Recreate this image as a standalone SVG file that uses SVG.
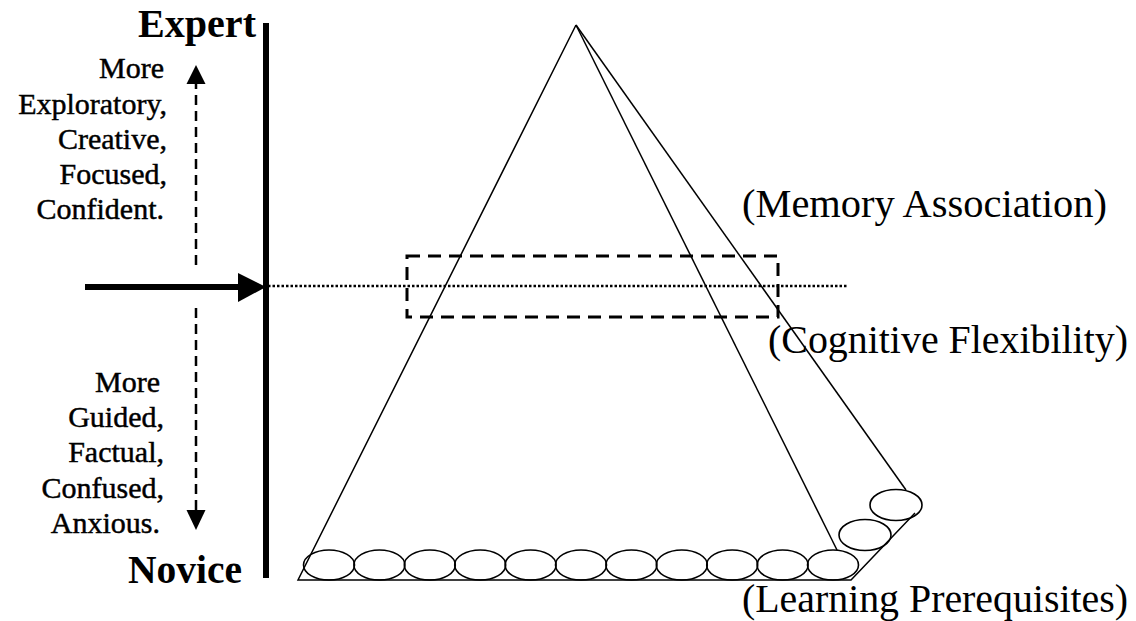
<svg xmlns="http://www.w3.org/2000/svg" width="1136" height="621" viewBox="0 0 1136 621">
<defs>
<style>
text{font-family:'Liberation Serif','Times New Roman','DejaVu Serif',serif;fill:#000}
.bold{font-weight:bold;font-size:39px}
.side{font-size:30px;text-anchor:end;stroke:#000;stroke-width:0.45}
.lbl{font-size:40px}
.edge{stroke:#000;stroke-width:1.5;fill:none}
.ell{stroke:#000;stroke-width:1.6;fill:none}
.dash{stroke:#000;stroke-width:2.5;stroke-dasharray:10 6;fill:none}
</style>
</defs>
<rect width="1136" height="621" fill="#fff"/>

<g id="pyramid">
<path class="edge" d="M576,25 L298,580 L851,580 L915,513"/>
<path class="edge" d="M576,25 L837,550"/>
<path class="edge" d="M576,25 L906,490"/>
<g id="prereq-circles">
<ellipse class="ell" cx="329" cy="565" rx="25.5" ry="15"/>
<ellipse class="ell" cx="379.4" cy="565" rx="25.5" ry="15"/>
<ellipse class="ell" cx="429.8" cy="565" rx="25.5" ry="15"/>
<ellipse class="ell" cx="480.2" cy="565" rx="25.5" ry="15"/>
<ellipse class="ell" cx="530.6" cy="565" rx="25.5" ry="15"/>
<ellipse class="ell" cx="581" cy="565" rx="25.5" ry="15"/>
<ellipse class="ell" cx="631.4" cy="565" rx="25.5" ry="15"/>
<ellipse class="ell" cx="681.8" cy="565" rx="25.5" ry="15"/>
<ellipse class="ell" cx="732.2" cy="565" rx="25.5" ry="15"/>
<ellipse class="ell" cx="782.6" cy="565" rx="25.5" ry="15"/>
<ellipse class="ell" cx="833" cy="565" rx="25.5" ry="15"/>
<ellipse class="ell" cx="865" cy="535" rx="26" ry="15.5"/>
<ellipse class="ell" cx="896" cy="505" rx="26" ry="15.5"/>
</g>
</g>

<g id="flex-window">
<rect x="407" y="256" width="371" height="61" fill="none" stroke="#000" stroke-width="3" stroke-dasharray="13 8"/>
</g>

<g id="scale-axis">
<line x1="266" y1="23" x2="266" y2="578" stroke="#000" stroke-width="6"/>
<text class="bold" x="138" y="37" textLength="118" lengthAdjust="spacingAndGlyphs">Expert</text>
<text class="bold" x="128" y="583" textLength="114" lengthAdjust="spacingAndGlyphs">Novice</text>
</g>

<g id="expert-traits">
<text class="side" x="164" y="78">More</text>
<text class="side" x="167" y="114">Exploratory,</text>
<text class="side" x="167" y="149">Creative,</text>
<text class="side" x="167" y="184">Focused,</text>
<text class="side" x="164" y="219">Confident.</text>
</g>

<g id="novice-traits">
<text class="side" x="160" y="392">More</text>
<text class="side" x="164" y="427">Guided,</text>
<text class="side" x="164" y="462">Factual,</text>
<text class="side" x="164" y="498">Confused,</text>
<text class="side" x="160" y="533">Anxious.</text>
</g>

<g id="labels">
<text class="lbl" x="742" y="217" textLength="365" lengthAdjust="spacingAndGlyphs">(Memory Association)</text>
<text class="lbl" x="768" y="353" textLength="360" lengthAdjust="spacingAndGlyphs">(Cognitive Flexibility)</text>
<text class="lbl" x="742" y="612" textLength="386" lengthAdjust="spacingAndGlyphs">(Learning Prerequisites)</text>
</g>

<g id="connectors">
<line x1="85" y1="287" x2="240" y2="287" stroke="#000" stroke-width="6"/>
<path d="M238,273 L266,287 L238,302 Z" fill="#000"/>
<line x1="268" y1="286" x2="848" y2="286" stroke="#000" stroke-width="2.5" stroke-dasharray="2.5 2"/>
<line class="dash" x1="196" y1="265" x2="196" y2="84"/>
<path d="M186.5,84 L196,65 L205.5,84 Z" fill="#000"/>
<line class="dash" x1="196" y1="308" x2="196" y2="510"/>
<path d="M186.5,510 L196,530 L205.5,510 Z" fill="#000"/>
</g>
</svg>
